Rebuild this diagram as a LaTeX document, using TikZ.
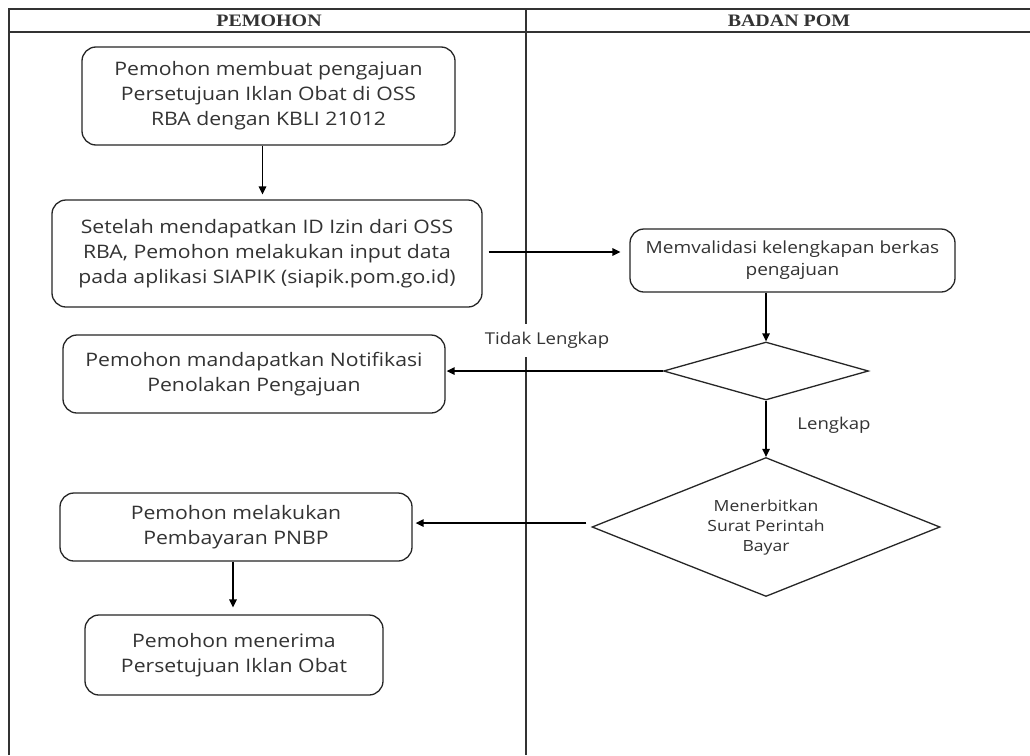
\documentclass[tikz,border=0pt]{standalone}
\usepackage{fontspec}
\setmainfont{Open Sans}[FakeStretch=1.14]
\newfontfamily\hdrfont{Liberation Serif}[FakeStretch=1.14]
\usetikzlibrary{shapes.geometric,arrows.meta,calc}

\begin{document}
\begin{tikzpicture}[x=1pt,y=-1pt,
  box/.style={draw=black!85, line width=1.3pt, rounded corners=14pt, inner sep=0pt, align=center, text=black!80, font=\fontsize{18.6}{25}\selectfont},
  dia/.style={draw=black!85, line width=1.3pt, diamond, aspect=2.5, inner sep=0pt, align=center, text=black!80},
  arr/.style={-{Triangle[length=8pt,width=7.5pt]}, line width=1.4pt, draw=black},
  lbl/.style={text=black!80, font=\fontsize{16.3}{20}\selectfont, inner sep=3pt},
  hdr/.style={font=\hdrfont\bfseries\fontsize{17.5}{20}\selectfont, text=black!80},
  tbl/.style={line width=1.5pt, draw=black!80}]

\fill[white] (0,0) rectangle (1030,755);
\path[use as bounding box] (0,0) rectangle (1030,755);

\draw[tbl] (9,755) -- (9,9) -- (1030,9);
\draw[tbl] (9,32) -- (1030,32);
\draw[tbl] (526,9) -- (526,755);

\node[hdr] (h1) at (269,21) {PEMOHON};
\node[hdr] (h2) at (789,21) {BADAN POM};

\node[box, minimum width=373pt, minimum height=98pt] (b1) at (268.5,96)
  {Pemohon membuat pengajuan\\Persetujuan Iklan Obat di OSS\\RBA dengan KBLI 21012};
\node[box, minimum width=430pt, minimum height=107pt] (b2) at (267,253.5)
  {Setelah mendapatkan ID Izin dari OSS\\RBA, Pemohon melakukan input data\\pada aplikasi SIAPIK (siapik.pom.go.id)};
\node[box, minimum width=325pt, minimum height=63pt, font=\fontsize{16.7}{22}\selectfont] (b3) at (792.5,260.5)
  {Memvalidasi kelengkapan berkas\\pengajuan};
\node[dia, minimum width=205pt, minimum height=58pt] (d1) at (766,371) {};
\node[box, minimum width=382pt, minimum height=78pt] (b4) at (254,374)
  {Pemohon mandapatkan Notifikasi\\Penolakan Pengajuan};
\node[dia, minimum width=348pt, minimum height=139pt, font=\fontsize{15.4}{20}\selectfont] (d2) at (766,527)
  {Menerbitkan\\Surat Perintah\\Bayar};
\node[box, minimum width=352pt, minimum height=68pt] (b5) at (236,527)
  {Pemohon melakukan\\Pembayaran PNBP};
\node[box, minimum width=298pt, minimum height=80pt] (b6) at (234,655)
  {Pemohon menerima\\Persetujuan Iklan Obat};

\node[lbl, fill=white, minimum height=33pt] (l1) at (547,340) {Tidak Lengkap};
\node[lbl] (l2) at (834,425) {Lengkap};

\draw[arr, shorten >=5pt] ([xshift=-6pt]b1.south) -- ([xshift=-6pt]b1.south |- b2.north);
\draw[arr, shorten <=6pt, shorten >=9pt] ([yshift=1.5pt]b2.east) -- ([yshift=1.5pt]b2.east -| b3.west);
\draw[arr] (d1.north |- b3.south) -- (d1.north);
\draw[arr, shorten >=1pt] (d1.west) -- (d1.west -| b4.east);
\draw[arr] (d1.south) -- (d2.north);
\draw[arr, shorten <=5pt, shorten >=3pt] ([yshift=4pt]d2.west) -- ([yshift=4pt]d2.west -| b5.east);
\draw[arr, shorten >=7pt] ([xshift=-3pt]b5.south) -- ([xshift=-3pt]b5.south |- b6.north);
\end{tikzpicture}
\end{document}
